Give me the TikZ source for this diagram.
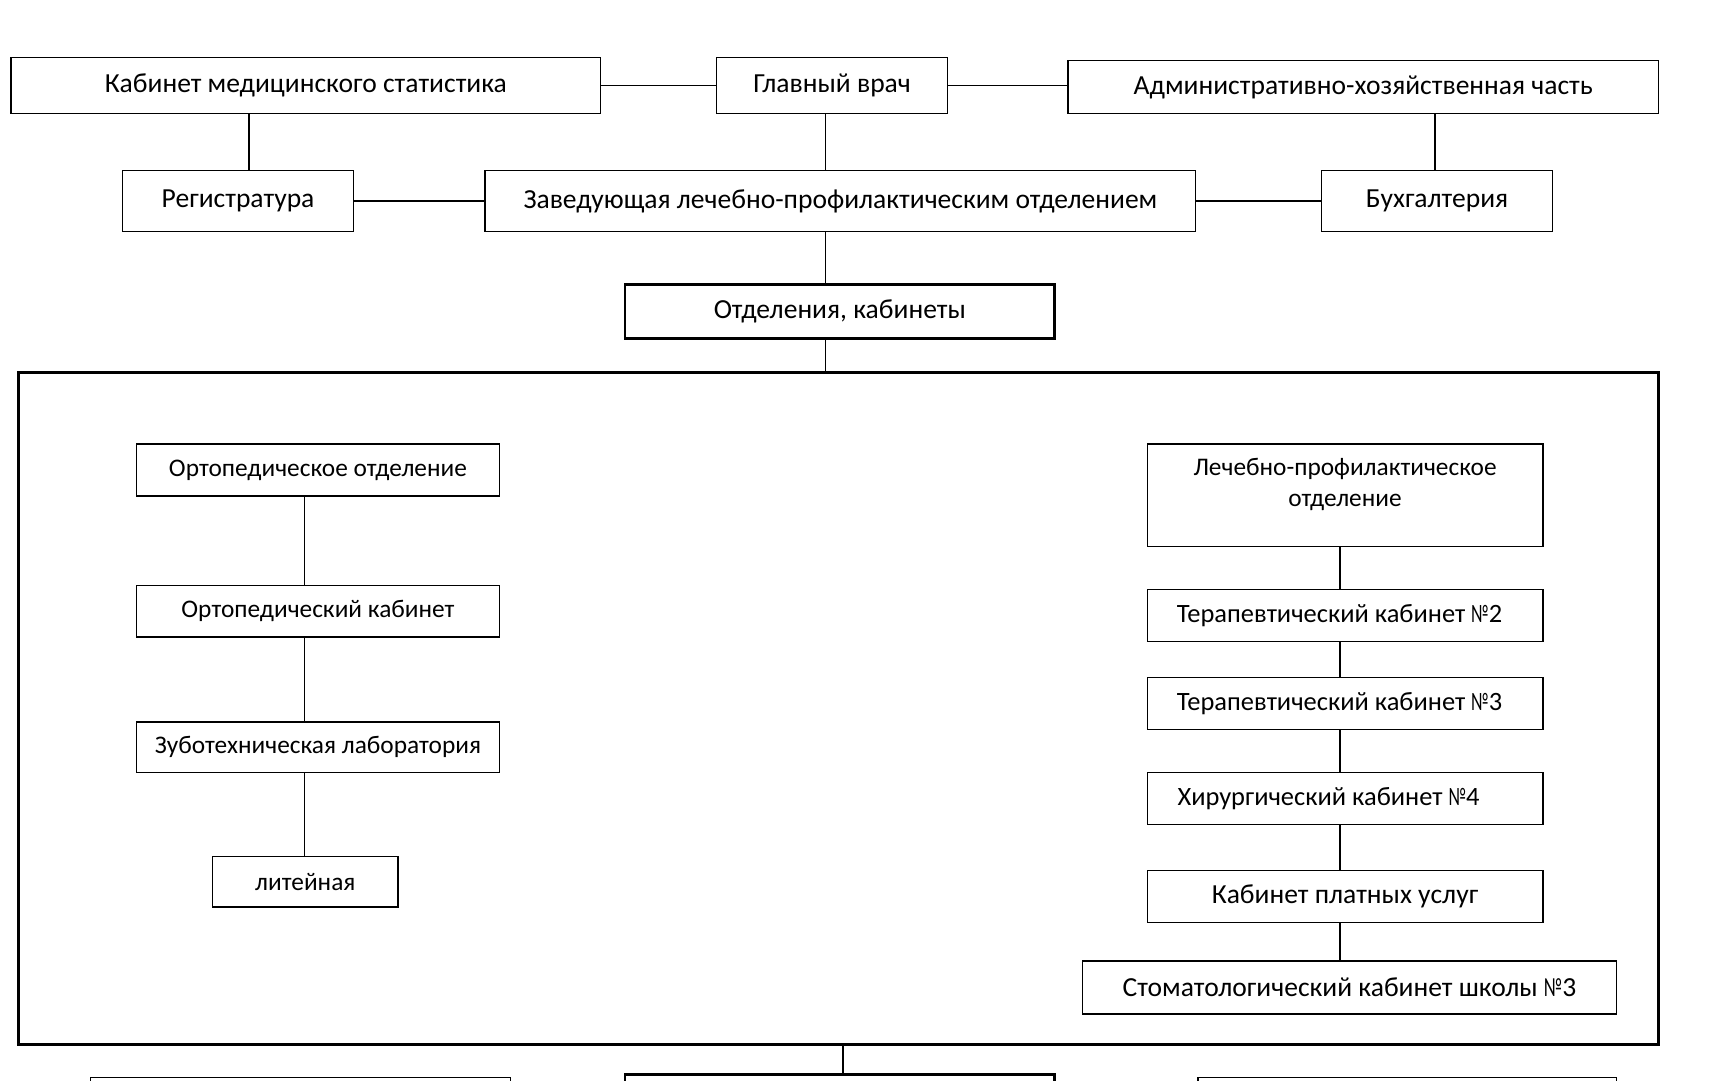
\documentclass[tikz,border=0pt]{standalone}
\usepackage{fontspec}
\usepackage{graphicx}
\setmainfont{Carlito}
\newcommand{\nmb}{\scalebox{0.65}[1]{№}}
\begin{document}
\begin{tikzpicture}[x=1pt,y=-1pt,
  bx/.style={draw=black, line width=1.2pt, inner sep=0pt, align=center,
    font=\fontsize{25}{28}\selectfont, text=black},
  small/.style={font=\fontsize{23}{28}\selectfont},
  mid/.style={font=\fontsize{24}{28}\selectfont},
  thick box/.style={bx, line width=2.3pt},
  conn/.style={draw=black, line width=1.2pt}]
\useasboundingbox (0,0) rectangle (1568,980);
\clip (0,0) rectangle (1568,980);
% top rows
\node[bx, minimum width=535pt, minimum height=51pt] (kab) at (277.5,77.5) {Кабинет медицинского статистика};
\node[bx, minimum width=210pt, minimum height=51pt] (glav) at (755,77.5) {Главный врач};
\node[bx, minimum width=536pt, minimum height=48pt] (adm) at (1237,79) {Административно-хозяйственная часть};
\node[bx, minimum width=210pt, minimum height=55pt] (reg) at (216,182.5) {Регистратура};
\node[bx, minimum width=645pt, minimum height=55pt] (zav) at (762.5,182.5) {Заведующая лечебно-профилактическим отделением};
\node[bx, minimum width=210pt, minimum height=55pt] (buh) at (1304,182.5) {Бухгалтерия};
\node[thick box, minimum width=390pt, minimum height=49pt] (otd) at (762,282.5) {Отделения, кабинеты};
% big frame
\node[thick box, minimum width=1488pt, minimum height=610pt] (big) at (761,643) {};
% left column
\node[bx, small, minimum width=329pt, minimum height=47pt] (ort) at (288.5,426.5) {Ортопедическое отделение};
\node[bx, small, minimum width=329pt, minimum height=47pt] (orkab) at (288.5,554.5) {Ортопедический кабинет};
\node[bx, small, minimum width=329pt, minimum height=46pt] (zub) at (288.5,678) {Зуботехническая лаборатория};
\node[bx, small, minimum width=168pt, minimum height=46pt] (lit) at (277,800) {литейная};
% right column
\node[bx, minimum width=359pt, minimum height=93pt,
  label={[font=\fontsize{23}{28}\selectfont, align=center, anchor=north, inner sep=0pt, yshift=-13pt]north:{Лечебно-профилактическое\\отделение}}] (lp) at (1220.5,449.5) {};
\node[bx, mid, minimum width=359pt, minimum height=47pt] (t2) at (1220.5,558.5) {Терапевтический кабинет \nmb2\hspace*{10pt}};
\node[bx, mid, minimum width=359pt, minimum height=47pt] (t3) at (1220.5,638.5) {Терапевтический кабинет \nmb3\hspace*{10pt}};
\node[bx, mid, minimum width=359pt, minimum height=47pt] (h4) at (1220.5,724.5) {Хирургический кабинет \nmb4\hspace*{30pt}};
\node[bx, minimum width=359pt, minimum height=47pt] (pl) at (1220.5,813.5) {Кабинет платных услуг};
\node[bx, minimum width=485pt, minimum height=48pt] (st) at (1224.5,896) {Стоматологический кабинет школы \nmb3};
% bottom partial boxes
\node[bx, minimum width=381pt, minimum height=50pt] (b1) at (272.5,1003) {};
\node[thick box, minimum width=390pt, minimum height=50pt] (b2) at (762,1000) {};
\node[bx, minimum width=380pt, minimum height=50pt] (b3) at (1277,1003) {};
% connectors
\draw[conn] (kab.east) -- (glav.west);
\draw[conn] (glav.east) -- (glav.east -| adm.west);
\draw[conn] (kab.south -| 226,0) -- (reg.north -| 226,0);
\draw[conn] (glav.south -| 749,0) -- (zav.north -| 749,0);
\draw[conn] (adm.south -| 1302,0) -- (buh.north -| 1302,0);
\draw[conn] (reg.east) -- (zav.west);
\draw[conn] (zav.east) -- (buh.west);
\draw[conn] (zav.south -| 749,0) -- (otd.north -| 749,0);
\draw[conn] (otd.south -| 749,0) -- (big.north -| 749,0);
\draw[conn] (ort.south -| 276,0) -- (orkab.north -| 276,0);
\draw[conn] (orkab.south -| 276,0) -- (zub.north -| 276,0);
\draw[conn] (zub.south -| 276,0) -- (lit.north -| 276,0);
\draw[conn] (lp.south -| 1216,0) -- (t2.north -| 1216,0);
\draw[conn] (t2.south -| 1216,0) -- (t3.north -| 1216,0);
\draw[conn] (t3.south -| 1216,0) -- (h4.north -| 1216,0);
\draw[conn] (h4.south -| 1216,0) -- (pl.north -| 1216,0);
\draw[conn] (pl.south -| 1216,0) -- (st.north -| 1216,0);
\draw[conn] (big.south -| 765,0) -- (b2.north -| 765,0);
\end{tikzpicture}
\end{document}
